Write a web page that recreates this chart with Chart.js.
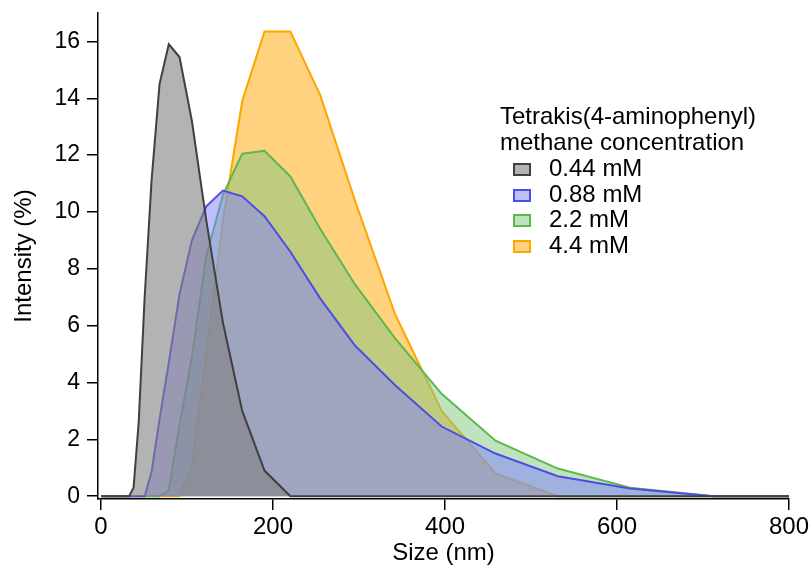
<!DOCTYPE html>
<html>
<head>
<meta charset="utf-8">
<script src="https://cdn.jsdelivr.net/npm/chart.js@4/dist/chart.umd.min.js"></script>
<style>
  body { margin: 0; background: #fff; }
  #wrap { position: relative; width: 811px; height: 569px; }
  #legend { position: absolute; left: 500px; top: 103px; font-family: "Liberation Sans", Arial, sans-serif; font-size: 24px; color: #000; }
  #legend .title { line-height: 26px; }
  #legend .item { position: relative; height: 25.7px; line-height: 25.7px; padding-left: 49px; }
  #legend .box { position: absolute; left: 13px; top: 8px; width: 14px; height: 9px; border: 2px solid; }
</style>
</head>
<body>
<div id="wrap">
  <canvas id="chart" width="811" height="569"></canvas>
  <div id="legend"></div>
</div>
<script>
// particle size bins (nm)
const sizes = [0.4, 32.67, 37.84, 43.82, 50.75, 58.77, 68.06, 78.82, 91.28, 105.7, 122.4, 141.8, 164.2, 190.1, 220.2, 255.0, 295.3, 342.0, 396.1, 458.7, 531.2, 615.1, 712.4, 825.0];

// intensity (%)
const conc044 = [0, 0, 0.3, 2.6, 7.0, 11.1, 14.5, 15.9, 15.45, 13.2, 9.7, 6.1, 3.0, 0.9, 0, 0, 0, 0, 0, 0, 0, 0, 0, 0];
const conc088 = [0, 0, 0, 0, 0, 0.85, 2.7, 4.7, 7.1, 9.0, 10.2, 10.75, 10.55, 9.85, 8.6, 6.95, 5.3, 3.9, 2.45, 1.5, 0.7, 0.27, 0, 0];
const conc22 = [0, 0, 0, 0, 0, 0, 0, 0.2, 2.5, 4.9, 8.45, 10.6, 12.05, 12.15, 11.25, 9.4, 7.45, 5.55, 3.6, 1.95, 0.97, 0.3, 0, 0];
const conc44 = [0, 0, 0, 0, 0, 0, 0, 0, 0, 1.1, 5.0, 9.7, 13.9, 16.35, 16.35, 14.1, 10.4, 6.4, 3.0, 0.8, 0, 0, 0, 0];

const seriesLabels = ['0.44 mM', '0.88 mM', '2.2 mM', '4.4 mM'];
const seriesData = [conc044, conc088, conc22, conc44];
const lineColors = ['#404040', '#4d4de6', '#5cb84c', '#ffa500'];
const fillColors = ['rgba(128,128,128,0.6)', 'rgba(128,128,255,0.5)', 'rgba(128,200,128,0.5)', 'rgba(255,165,0,0.5)'];

const xTicks = [0, 200, 400, 600, 800];
const yTicks = [0, 2, 4, 6, 8, 10, 12, 14, 16];

const legendTitle = ['Tetrakis(4-aminophenyl)', 'methane concentration'];

const FONT = '"Liberation Sans", Arial, sans-serif';

const datasets = seriesData.map((vals, i) => ({
    label: seriesLabels[i],
    data: vals.map((v, j) => ({ x: sizes[j], y: v })),
    borderColor: lineColors[i],
    backgroundColor: fillColors[i],
    borderWidth: 2,
    pointRadius: 0,
    tension: 0,
    fill: 'origin'
}));

const ctx = document.getElementById('chart').getContext('2d');
new Chart(ctx, {
    type: 'line',
    data: { datasets: datasets },
    options: {
        responsive: false,
        animation: false,
        layout: { padding: { top: 13, right: 22, left: 0, bottom: 0 } },
        plugins: { legend: { display: false }, tooltip: { enabled: false } },
        scales: {
            x: {
                type: 'linear',
                min: -3.5,
                max: 800,
                afterBuildTicks: (s) => { s.ticks = xTicks.map(v => ({ value: v })); },
                afterFit: (s) => { s.height = 70; s.paddingLeft = 0; s.paddingRight = 0; },
                grid: { drawOnChartArea: false, drawTicks: true, tickLength: 11, color: '#000', lineWidth: 1.5 },
                border: { display: true, color: '#000', width: 1.5 },
                ticks: { color: '#000', font: { family: FONT, size: 24 }, padding: 3, maxRotation: 0 },
                title: { display: true, text: 'Size (nm)', color: '#000', font: { family: FONT, size: 24 }, padding: { top: 0, bottom: 1 } }
            },
            y: {
                min: -0.1,
                max: 17,
                afterBuildTicks: (s) => { s.ticks = yTicks.map(v => ({ value: v })); },
                afterFit: (s) => { s.width = 98; s.paddingTop = 0; s.paddingBottom = 0; },
                grid: { drawOnChartArea: false, drawTicks: true, tickLength: 11, color: '#000', lineWidth: 1.5 },
                border: { display: true, color: '#000', width: 1.5 },
                ticks: { color: '#000', font: { family: FONT, size: 23 }, padding: 7 },
                title: { display: true, text: 'Intensity (%)', color: '#000', font: { family: FONT, size: 24 }, padding: { top: 10, bottom: 0 } }
            }
        }
    }
});

// legend inside the plot
let html = legendTitle.map(t => `<div class="title">${t}</div>`).join('');
seriesLabels.forEach((lab, i) => {
    html += `<div class="item"><span class="box" style="border-color:${lineColors[i]};background:${fillColors[i]}"></span>${lab}</div>`;
});
document.getElementById('legend').innerHTML = html;
</script>
</body>
</html>
